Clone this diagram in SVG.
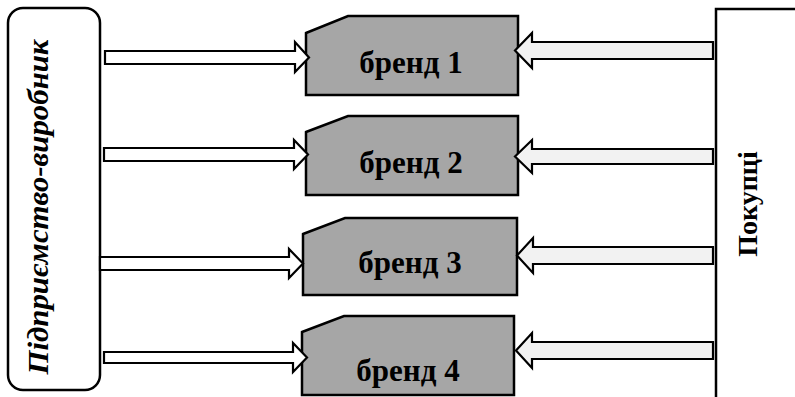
<svg xmlns="http://www.w3.org/2000/svg" width="795" height="397" viewBox="0 0 795 397">
  <style>
    .frame { fill: #ffffff; stroke: #000000; stroke-width: 2.5; }
    .brand { fill: #a6a6a6; stroke: #000000; stroke-width: 2.5; stroke-linejoin: miter; }
    .out { fill: #ffffff; stroke: #000000; stroke-width: 2.2; stroke-linejoin: miter; }
    .in { fill: #f2f2f2; stroke: #000000; stroke-width: 2.2; stroke-linejoin: miter; }
    .edge { fill: none; stroke: #000000; stroke-width: 2.5; }
    .label { font-family: "Liberation Serif", "Times New Roman", serif; font-weight: bold; fill: #000000; }
  </style>

  <!-- producer -->
  <g id="producer">
    <rect class="frame" x="8" y="8" width="92" height="382" rx="15" ry="15"/>
    <text class="label" font-style="italic" font-size="30" text-anchor="middle" textLength="335" lengthAdjust="spacingAndGlyphs" transform="translate(48,207) rotate(-90)">Підприємство-виробник</text>
  </g>

  <!-- buyers -->
  <g id="buyers">
    <path class="edge" d="M716,397 V9 H795"/>
    <text class="label" font-size="28" text-anchor="middle" transform="translate(757,204) rotate(-90)">Покупці</text>
  </g>

  <!-- brands -->
  <g id="brand1">
    <polygon class="brand" points="306,33 348,16 518,16 518,95 306,95"/>
    <text class="label" font-size="31" text-anchor="middle" x="411" y="73">бренд 1</text>
  </g>
  <g id="brand2">
    <polygon class="brand" points="306,132 348,116 518,116 518,195 306,195"/>
    <text class="label" font-size="31" text-anchor="middle" x="411" y="173">бренд 2</text>
  </g>
  <g id="brand3">
    <polygon class="brand" points="303,234 345,218 517,218 517,295 303,295"/>
    <text class="label" font-size="31" text-anchor="middle" x="410" y="273">бренд 3</text>
  </g>
  <g id="brand4">
    <polygon class="brand" points="302,332 344,316 514,316 514,395 302,395"/>
    <text class="label" font-size="31" text-anchor="middle" x="408" y="381">бренд 4</text>
  </g>

  <!-- block arrows -->
  <g id="connectors">
    <!-- producer to brands -->
    <polygon class="out" points="105,51 295,51 295,42 309,57.5 295,72 295,64 105,64"/>
    <polygon class="out" points="104,148 294,148 294,140 308,154.5 294,169 294,161 104,161"/>
    <polygon class="out" points="100,257 289,257 289,249 303,263.5 289,278 289,270 100,270"/>
    <polygon class="out" points="104,352 293,352 293,343 307,357.5 293,372 293,363 104,363"/>
    <!-- buyers to brands -->
    <polygon class="in" points="713,42 532,42 532,33 515,50.5 532,68 532,59 713,59"/>
    <polygon class="in" points="713,149 532,149 532,140 515,156.5 532,173 532,164 713,164"/>
    <polygon class="in" points="713,247 533,247 533,238 517,255.5 533,273 533,264 713,264"/>
    <polygon class="in" points="713,342 532,342 532,333 516,350.5 532,368 532,359 713,359"/>
  </g>
</svg>
